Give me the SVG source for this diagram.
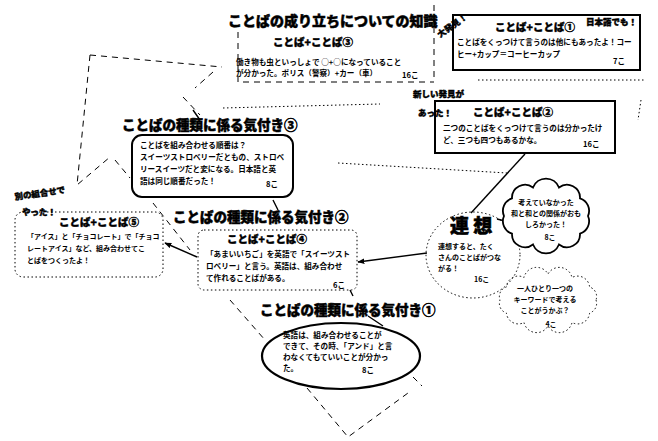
<svg xmlns="http://www.w3.org/2000/svg" width="658" height="441" viewBox="0 0 658 441">
<defs>
<style>
text{font-family:"Noto Sans CJK JP","Noto Sans",sans-serif;fill:#000;font-weight:700}
.ttl{font-size:13.5px;font-weight:900;stroke:#000;stroke-width:0.5}
.big{font-size:14px;font-weight:900;stroke:#000;stroke-width:0.5}
.sub{font-size:10.5px;font-weight:900;text-anchor:middle;stroke:#000;stroke-width:0.4}
.t{font-size:7.6px}
.s{font-size:7px}
.lab{font-size:8.5px;font-weight:900;stroke:#000;stroke-width:0.4}
.solid{fill:#fff;stroke:#000;stroke-width:2}
.dot{fill:none;stroke:#000;stroke-width:1;stroke-dasharray:1.5 2.5}
.dash{fill:none;stroke:#000;stroke-width:1;stroke-dasharray:6 5}
.ln{fill:none;stroke:#000;stroke-width:1.4}
</style>
<marker id="ah" viewBox="0 0 10 10" refX="9" refY="5" markerWidth="7" markerHeight="7" orient="auto" markerUnits="userSpaceOnUse">
<path d="M0,1 L10,5 L0,9 z" fill="#000"/>
</marker>
</defs>
<rect width="658" height="441" fill="#fff"/>

<g id="connectors">
<path class="dash" d="M90,55 L222,67 M213,72 L195,88 M183,97 L200,115 M90,55 L77,185 L110,157 M115,160 L130,178 M153,203 L190,250"/>
<path class="dash" d="M230,300 L265,340 M307,388 L348,437 L408,393 M413,377 L422,386"/>
<path class="dot" d="M223,108 L380,104 M338,163 L507,173 M478,80 L645,80 M641,100 L638,120"/>
<path class="ln" d="M193,110 L200,120 M273,200 L278,210 M350,290 L353,296 M368,316 L383,326"/>
<path class="ln" d="M525,154 L471,213"/>
<path class="ln" d="M497,219 L505,221"/>
<path class="ln" d="M427,253 L358,262" marker-end="url(#ah)"/>
<path class="ln" d="M197,257 L165,243" stroke-width="1.8" marker-end="url(#ah)"/>
</g>

<g id="n-chishiki">
<text class="big" x="228" y="26">ことばの成り立ちについての知識</text>
<path class="dash" d="M238,32 L238,82 L434,82 M434,5 L434,78"/>
<text class="sub" x="313" y="46">ことば+ことば③</text>
<text class="t" x="236" y="65">働き物も虫といっしょで ○+○になっていること</text>
<text class="t" x="236" y="76">が分かった。ポリス（警察）+カー（車）</text>
<text class="t" x="402" y="78">16こ</text>
</g>

<g id="n-hakken1">
<rect class="solid" x="453" y="15" width="187" height="55"/>
<text class="lab" x="440" y="38" transform="rotate(-35 440 38)">大発見！</text>
<text class="lab" x="586" y="25">日本語でも！</text>
<text class="sub" x="535" y="31">ことば+ことば①</text>
<text class="t" x="457" y="45">ことばをくっつけて言うのは他にもあったよ！コー</text>
<text class="t" x="457" y="57">ヒー+カップ＝コーヒーカップ</text>
<text class="t" x="613" y="64">7こ</text>
</g>

<g id="n-hakken2">
<rect class="solid" x="435" y="101" width="180" height="52"/>
<text class="lab" x="413" y="97">新しい発見が</text>
<text class="lab" x="418" y="116">あった！</text>
<text class="sub" x="513" y="116">ことば+ことば②</text>
<text class="t" x="443" y="131">二つのことばをくっつけて言うのは分かったけ</text>
<text class="t" x="443" y="143">ど、三つも四つもあるかな。</text>
<text class="t" x="583" y="147">16こ</text>
</g>

<g id="n-kizuki3">
<text class="ttl" x="122" y="130">ことばの種類に係る気付き③</text>
<rect class="solid" x="132" y="135" width="161" height="62" rx="10"/>
<text class="t" x="140" y="148">ことばを組み合わせる順番は？</text>
<text class="t" x="140" y="160">スイーツストロベリーだともの、ストロベ</text>
<text class="t" x="140" y="172">リースイーツだと変になる。日本語と英</text>
<text class="t" x="140" y="184">語は同じ順番だった！</text>
<text class="t" x="266" y="187">8こ</text>
</g>

<g id="n-betsu">
<rect class="dot" x="15" y="212" width="148" height="65" rx="8"/>
<text class="lab" x="15" y="200" transform="rotate(-8 15 200)">別の組合せで</text>
<text class="lab" x="22" y="215">やった！</text>
<text class="sub" x="99" y="226">ことば+ことば⑤</text>
<text class="s" x="27" y="239">「アイス」と「チョコレート」で「チョコ</text>
<text class="s" x="27" y="251">レートアイス」など、組み合わせてこ</text>
<text class="s" x="27" y="263">とばをつくったよ！</text>
</g>

<g id="n-kizuki2">
<text class="ttl" x="173" y="222">ことばの種類に係る気付き②</text>
<rect class="dot" x="198" y="230" width="159" height="60" rx="6"/>
<text class="sub" x="267" y="243">ことば+ことば④</text>
<text class="t" x="206" y="257">「あまいいちご」を英語で「スイーツスト</text>
<text class="t" x="206" y="269">ロベリー」と言う。英語は、組み合わせ</text>
<text class="t" x="206" y="281">て作れることばがある。</text>
<text class="t" x="333" y="288">6こ</text>
</g>

<g id="n-kizuki1">
<text class="ttl" x="260" y="315">ことばの種類に係る気付き①</text>
<ellipse cx="341" cy="356" rx="79" ry="33" fill="#fff" stroke="#000" stroke-width="2.2"/>
<text class="t" x="283" y="338">英語は、組み合わせることが</text>
<text class="t" x="283" y="349">できて、その時、「アンド」と言</text>
<text class="t" x="283" y="360">わなくてもていいことが分かっ</text>
<text class="t" x="283" y="371">た。</text>
<text class="t" x="362" y="373">8こ</text>
</g>

<g id="n-rensou">
<ellipse class="dot" cx="473" cy="255" rx="47" ry="43"/>
<text x="450" y="233" style="font-size:19px;font-weight:900;stroke:#000;stroke-width:0.6">連 想</text>
<text class="s" x="438" y="249">連想すると、たく</text>
<text class="s" x="438" y="260">さんのことばがつな</text>
<text class="s" x="438" y="271">がる！</text>
<text class="s" x="474" y="282">16こ</text>
</g>

<g id="n-cloud1">
<path fill="#fff" stroke="#000" stroke-width="1.8" d="M588,216 A13,13 0 0 1 580,233.6 A13,13 0 0 1 559,244.5 A14,14 0 0 1 533,244.5 A13,13 0 0 1 512,233.6 A13,13 0 0 1 504,216 A13,13 0 0 1 512,198.4 A13,13 0 0 1 533,187.5 A14,14 0 0 1 559,187.5 A13,13 0 0 1 580,198.4 A13,13 0 0 1 588,216 Z"/>
<text class="s" x="546" y="205" text-anchor="middle">考えていなかった</text>
<text class="s" x="546" y="216" text-anchor="middle">和と和との関係がおも</text>
<text class="s" x="546" y="227" text-anchor="middle">しろかった！</text>
<text class="s" x="550" y="240" text-anchor="middle">8こ</text>
</g>

<g id="n-cloud2">
<path class="dot" d="M596,300 A10,10 0 0 1 589.6,313 A12,12 0 0 1 572,322.5 A13,13 0 0 1 548,326 A13,13 0 0 1 524,322.5 A12,12 0 0 1 506.4,313 A10,10 0 0 1 500,300 A10,10 0 0 1 506.4,287 A12,12 0 0 1 524,277.5 A13,13 0 0 1 548,274 A13,13 0 0 1 572,277.5 A12,12 0 0 1 589.6,287 A10,10 0 0 1 596,300 Z"/>
<text class="s" x="545" y="291" text-anchor="middle">一人ひとり一つの</text>
<text class="s" x="545" y="302" text-anchor="middle">キーワードで考える</text>
<text class="s" x="545" y="313" text-anchor="middle">ことがうかぶ？</text>
<text class="s" x="551" y="327" text-anchor="middle">4こ</text>
</g>
</svg>
